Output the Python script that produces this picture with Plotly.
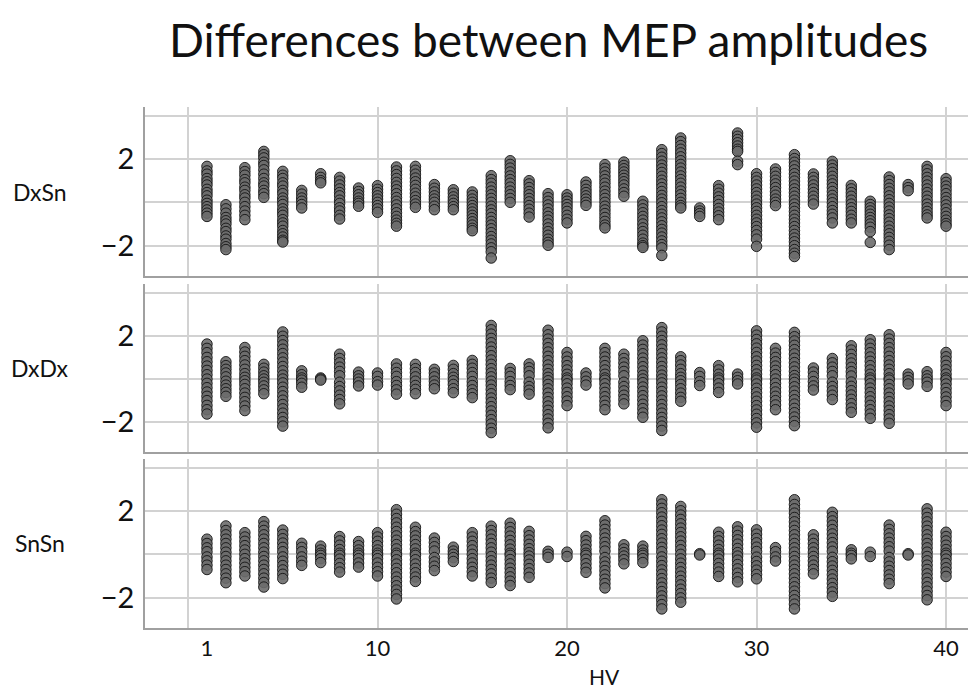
import plotly.graph_objects as go

title_text = "Differences between MEP amplitudes"
panel_names = ["DxSn", "DxDx", "SnSn"]
x_title = "HV"
hv_subjects = list(range(1, 41))
x_tickvals = [1, 10, 20, 30, 40]
x_ticktext = ["1", "10", "20", "30", "40"]
x_gridvals = [0, 10, 20, 30, 40]
y_tickvals = [-4, -2, 0, 2, 4]
y_ticktext = ["", "−2", "", "2", ""]

dxsn = [
    [1.66, 1.45, 1.3, 1.1, 0.95, 0.8, 0.6, 0.45, 0.3, 0.1, -0.05, -0.2, -0.35, -0.5, -0.65],
    [-0.11, -0.3, -0.5, -0.7, -0.85, -1.0, -1.2, -1.35, -1.55, -1.7, -1.9, -2.05, -2.18],
    [1.6, 1.42, 1.25, 1.05, 0.9, 0.7, 0.55, 0.35, 0.2, 0.0, -0.2, -0.4, -0.6, -0.8],
    [2.35, 2.2, 2.05, 1.85, 1.7, 1.5, 1.3, 1.1, 0.9, 0.75, 0.55, 0.4, 0.23],
    [1.43, 1.25, 1.1, 0.9, 0.75, 0.55, 0.4, 0.2, 0.05, -0.1, -0.3, -0.45, -0.6, -0.8, -0.95, -1.1, -1.3, -1.45, -1.6, -1.75, -1.83],
    [0.55, 0.38, 0.2, 0.05, -0.1, -0.26],
    [1.32, 1.15, 1.0, 0.9],
    [1.15, 0.98, 0.8, 0.62, 0.45, 0.3, 0.1, -0.05, -0.25, -0.4, -0.6, -0.77],
    [0.66, 0.5, 0.35, 0.2, 0.05, -0.05, -0.18],
    [0.77, 0.6, 0.45, 0.3, 0.15, 0.0, -0.15, -0.3, -0.46],
    [1.63, 1.45, 1.28, 1.1, 0.92, 0.75, 0.58, 0.4, 0.22, 0.05, -0.12, -0.3, -0.48, -0.65, -0.82, -0.97, -1.1],
    [1.66, 1.48, 1.3, 1.12, 0.95, 0.78, 0.6, 0.42, 0.25, 0.08, -0.08, -0.23],
    [0.82, 0.65, 0.48, 0.3, 0.15, 0.0, -0.18, -0.34],
    [0.58, 0.42, 0.25, 0.1, -0.05, -0.2, -0.34],
    [0.48, 0.32, 0.15, 0.0, -0.15, -0.3, -0.45, -0.6, -0.75, -0.9, -1.05, -1.2, -1.31],
    [1.23, 1.05, 0.88, 0.7, 0.52, 0.35, 0.18, 0.0, -0.18, -0.35, -0.52, -0.7, -0.88, -1.05, -1.22, -1.4, -1.58, -1.75, -1.92, -2.1, -2.28, -2.57],
    [1.92, 1.75, 1.58, 1.4, 1.22, 1.05, 0.88, 0.7, 0.52, 0.35, 0.18, 0.0],
    [1.0, 0.85, 0.68, 0.5, 0.35, 0.18, 0.02, -0.15, -0.32, -0.5, -0.68],
    [0.4, 0.22, 0.05, -0.12, -0.3, -0.48, -0.65, -0.82, -1.0, -1.18, -1.35, -1.52, -1.7, -1.85, -1.98],
    [0.35, 0.2, 0.05, -0.1, -0.25, -0.42, -0.6, -0.78, -0.95],
    [0.94, 0.78, 0.6, 0.45, 0.3, 0.15, 0.0, -0.14],
    [1.74, 1.57, 1.4, 1.22, 1.05, 0.88, 0.7, 0.52, 0.35, 0.18, 0.0, -0.18, -0.35, -0.52, -0.7, -0.88, -1.05, -1.18],
    [1.86, 1.7, 1.55, 1.4, 1.25, 1.1, 0.95, 0.8, 0.62, 0.45, 0.28],
    [0.05, -0.12, -0.3, -0.48, -0.65, -0.82, -1.0, -1.18, -1.35, -1.52, -1.7, -1.88, -2.0, -2.08],
    [2.43, 2.25, 2.08, 1.9, 1.72, 1.55, 1.38, 1.2, 1.02, 0.85, 0.68, 0.5, 0.32, 0.15, -0.02, -0.2, -0.38, -0.55, -0.72, -0.9, -1.08, -1.25, -1.42, -1.6, -1.78, -1.95, -2.1, -2.45],
    [2.97, 2.8, 2.62, 2.45, 2.28, 2.1, 1.92, 1.75, 1.58, 1.4, 1.22, 1.05, 0.88, 0.7, 0.52, 0.35, 0.18, 0.0, -0.15, -0.26],
    [-0.26, -0.4, -0.52, -0.65],
    [0.77, 0.6, 0.42, 0.25, 0.08, -0.1, -0.28, -0.45, -0.62, -0.8],
    [3.2, 3.05, 2.9, 2.75, 2.6, 2.45, 2.35, 1.9, 1.74],
    [1.32, 1.15, 0.98, 0.8, 0.62, 0.45, 0.28, 0.1, -0.08, -0.25, -0.42, -0.6, -0.78, -0.95, -1.12, -1.3, -1.5, -1.7, -2.03],
    [1.54, 1.38, 1.2, 1.02, 0.85, 0.68, 0.5, 0.33, 0.15, 0.0, -0.15],
    [2.2, 2.02, 1.85, 1.68, 1.5, 1.32, 1.15, 0.98, 0.8, 0.62, 0.45, 0.28, 0.1, -0.08, -0.25, -0.42, -0.6, -0.78, -0.95, -1.12, -1.3, -1.48, -1.65, -1.82, -2.0, -2.18, -2.35, -2.5],
    [1.31, 1.15, 0.98, 0.8, 0.62, 0.45, 0.28, 0.1, -0.08],
    [1.89, 1.72, 1.55, 1.38, 1.2, 1.02, 0.85, 0.68, 0.5, 0.32, 0.15, -0.02, -0.2, -0.38, -0.55, -0.72, -0.95],
    [0.78, 0.62, 0.45, 0.28, 0.1, -0.08, -0.25, -0.42, -0.6, -0.78, -0.95],
    [0.05, -0.1, -0.25, -0.4, -0.55, -0.7, -0.85, -1.0, -1.15, -1.35, -1.85],
    [1.17, 1.0, 0.82, 0.65, 0.48, 0.3, 0.12, -0.05, -0.22, -0.4, -0.58, -0.75, -0.92, -1.1, -1.28, -1.45, -1.62, -1.8, -1.98, -2.18],
    [0.82, 0.68, 0.54],
    [1.66, 1.5, 1.32, 1.15, 0.98, 0.8, 0.62, 0.45, 0.28, 0.1, -0.08, -0.25, -0.42, -0.58, -0.72],
    [1.09, 0.92, 0.75, 0.58, 0.4, 0.22, 0.05, -0.12, -0.3, -0.48, -0.65, -0.82, -0.98, -1.1],
]

dxdx = [
    [1.62, 1.42, 1.22, 1.0, 0.8, 0.6, 0.4, 0.2, 0.0, -0.2, -0.4, -0.6, -0.8, -1.0, -1.22, -1.42, -1.62],
    [0.8, 0.62, 0.45, 0.28, 0.1, -0.1, -0.28, -0.45, -0.62, -0.8],
    [1.46, 1.25, 1.05, 0.85, 0.65, 0.45, 0.25, 0.08, -0.08, -0.25, -0.45, -0.65, -0.85, -1.05, -1.25, -1.46],
    [0.68, 0.5, 0.32, 0.15, 0.0, -0.15, -0.32, -0.5, -0.68],
    [2.18, 1.98, 1.78, 1.58, 1.38, 1.18, 0.98, 0.78, 0.58, 0.38, 0.18, 0.0, -0.18, -0.38, -0.58, -0.78, -0.98, -1.18, -1.38, -1.58, -1.78, -1.98, -2.18],
    [0.38, 0.2, 0.05, -0.05, -0.2, -0.38],
    [0.05, 0.0, -0.05],
    [1.15, 0.95, 0.75, 0.55, 0.35, 0.15, -0.15, -0.35, -0.55, -0.75, -0.95, -1.15],
    [0.32, 0.15, 0.0, -0.15, -0.32],
    [0.28, 0.12, -0.12, -0.28],
    [0.7, 0.5, 0.3, 0.12, -0.12, -0.3, -0.5, -0.7],
    [0.68, 0.48, 0.3, 0.1, -0.1, -0.3, -0.48, -0.68],
    [0.45, 0.28, 0.1, -0.1, -0.28, -0.45],
    [0.63, 0.45, 0.25, 0.08, -0.08, -0.25, -0.45, -0.63],
    [0.86, 0.68, 0.5, 0.3, 0.12, -0.12, -0.3, -0.5, -0.68, -0.86],
    [2.48, 2.28, 2.08, 1.88, 1.68, 1.48, 1.28, 1.08, 0.88, 0.68, 0.48, 0.28, 0.1, -0.1, -0.28, -0.48, -0.68, -0.88, -1.08, -1.28, -1.48, -1.68, -1.88, -2.08, -2.28, -2.48],
    [0.49, 0.3, 0.12, -0.12, -0.3, -0.49],
    [0.7, 0.52, 0.35, 0.15, -0.15, -0.35, -0.52, -0.7],
    [2.26, 2.05, 1.85, 1.65, 1.45, 1.25, 1.05, 0.85, 0.65, 0.45, 0.25, 0.08, -0.08, -0.25, -0.45, -0.65, -0.85, -1.05, -1.25, -1.45, -1.65, -1.85, -2.05, -2.26],
    [1.23, 1.02, 0.82, 0.62, 0.42, 0.22, 0.05, -0.05, -0.22, -0.42, -0.62, -0.82, -1.02, -1.23],
    [0.28, 0.1, -0.1, -0.28],
    [1.42, 1.22, 1.02, 0.82, 0.62, 0.42, 0.22, 0.05, -0.05, -0.22, -0.42, -0.62, -0.82, -1.02, -1.22, -1.42],
    [1.15, 0.95, 0.75, 0.55, 0.35, 0.15, -0.15, -0.35, -0.55, -0.75, -0.95, -1.15],
    [1.77, 1.57, 1.37, 1.17, 0.97, 0.77, 0.57, 0.37, 0.17, 0.0, -0.17, -0.37, -0.57, -0.77, -0.97, -1.17, -1.37, -1.57, -1.77],
    [2.38, 2.18, 1.98, 1.78, 1.58, 1.38, 1.18, 0.98, 0.78, 0.58, 0.38, 0.18, 0.0, -0.18, -0.38, -0.58, -0.78, -0.98, -1.18, -1.38, -1.58, -1.78, -1.98, -2.18, -2.38],
    [1.03, 0.85, 0.65, 0.45, 0.25, 0.08, -0.08, -0.25, -0.45, -0.65, -0.85, -1.03],
    [0.3, 0.12, -0.12, -0.3],
    [0.62, 0.42, 0.22, 0.05, -0.05, -0.22, -0.42, -0.62],
    [0.23, 0.08, -0.08, -0.23],
    [2.23, 2.03, 1.83, 1.63, 1.43, 1.23, 1.03, 0.83, 0.63, 0.43, 0.23, 0.05, -0.05, -0.23, -0.43, -0.63, -0.83, -1.03, -1.23, -1.43, -1.63, -1.83, -2.03, -2.23],
    [1.42, 1.2, 1.0, 0.8, 0.6, 0.4, 0.2, 0.0, -0.2, -0.4, -0.6, -0.8, -1.0, -1.2, -1.42],
    [2.16, 1.96, 1.76, 1.56, 1.36, 1.16, 0.96, 0.76, 0.56, 0.36, 0.16, 0.0, -0.16, -0.36, -0.56, -0.76, -0.96, -1.16, -1.36, -1.56, -1.76, -1.96, -2.16],
    [0.51, 0.32, 0.12, -0.12, -0.32, -0.51],
    [0.95, 0.75, 0.55, 0.35, 0.15, -0.15, -0.35, -0.55, -0.75, -0.95],
    [1.54, 1.34, 1.14, 0.94, 0.74, 0.54, 0.34, 0.14, -0.14, -0.34, -0.54, -0.74, -0.94, -1.14, -1.34, -1.54],
    [1.82, 1.62, 1.42, 1.22, 1.02, 0.82, 0.62, 0.42, 0.22, 0.05, -0.05, -0.22, -0.42, -0.62, -0.82, -1.02, -1.22, -1.42, -1.62, -1.82],
    [2.05, 1.85, 1.65, 1.45, 1.25, 1.05, 0.85, 0.65, 0.45, 0.25, 0.05, -0.05, -0.25, -0.45, -0.65, -0.85, -1.05, -1.25, -1.45, -1.65, -1.85, -2.05],
    [0.23, 0.08, -0.08, -0.23],
    [0.34, 0.15, 0.0, -0.15, -0.34],
    [1.23, 1.03, 0.83, 0.63, 0.43, 0.23, 0.05, -0.05, -0.23, -0.43, -0.63, -0.83, -1.03, -1.23],
]

snsn = [
    [0.7, 0.5, 0.3, 0.12, -0.12, -0.3, -0.5, -0.7],
    [1.31, 1.1, 0.9, 0.7, 0.5, 0.3, 0.1, -0.1, -0.3, -0.5, -0.7, -0.9, -1.1, -1.31],
    [1.0, 0.8, 0.6, 0.4, 0.2, 0.0, -0.2, -0.4, -0.6, -0.8, -1.0],
    [1.51, 1.3, 1.1, 0.9, 0.7, 0.5, 0.3, 0.1, -0.1, -0.3, -0.5, -0.7, -0.9, -1.1, -1.3, -1.51],
    [1.12, 0.92, 0.72, 0.52, 0.32, 0.12, -0.12, -0.32, -0.52, -0.72, -0.92, -1.12],
    [0.51, 0.32, 0.12, -0.12, -0.32, -0.51],
    [0.38, 0.2, 0.05, -0.05, -0.2, -0.38],
    [0.82, 0.62, 0.42, 0.22, 0.05, -0.05, -0.22, -0.42, -0.62, -0.82],
    [0.59, 0.4, 0.2, 0.05, -0.05, -0.2, -0.4, -0.59],
    [1.0, 0.8, 0.6, 0.4, 0.2, 0.05, -0.05, -0.2, -0.4, -0.6, -0.8, -1.0],
    [2.06, 1.85, 1.65, 1.45, 1.25, 1.05, 0.85, 0.65, 0.45, 0.25, 0.05, -0.05, -0.25, -0.45, -0.65, -0.85, -1.05, -1.25, -1.45, -1.65, -1.85, -2.06],
    [1.25, 1.05, 0.85, 0.65, 0.45, 0.25, 0.05, -0.05, -0.25, -0.45, -0.65, -0.85, -1.05, -1.25],
    [0.75, 0.55, 0.35, 0.15, -0.15, -0.35, -0.55, -0.75],
    [0.33, 0.15, 0.0, -0.15, -0.33],
    [1.0, 0.8, 0.6, 0.4, 0.2, 0.0, -0.2, -0.4, -0.6, -0.8, -1.0],
    [1.3, 1.1, 0.9, 0.7, 0.5, 0.3, 0.1, -0.1, -0.3, -0.5, -0.7, -0.9, -1.1, -1.3],
    [1.44, 1.24, 1.04, 0.84, 0.64, 0.44, 0.24, 0.05, -0.05, -0.24, -0.44, -0.64, -0.84, -1.04, -1.24, -1.44],
    [1.06, 0.86, 0.66, 0.46, 0.26, 0.08, -0.08, -0.26, -0.46, -0.66, -0.86, -1.06],
    [0.14, 0.0, -0.14],
    [0.1, -0.1],
    [0.83, 0.63, 0.43, 0.23, 0.05, -0.05, -0.23, -0.43, -0.63, -0.83],
    [1.55, 1.35, 1.15, 0.95, 0.75, 0.55, 0.35, 0.15, -0.15, -0.35, -0.55, -0.75, -0.95, -1.15, -1.35, -1.55],
    [0.44, 0.25, 0.08, -0.08, -0.25, -0.44],
    [0.38, 0.2, 0.05, -0.05, -0.2, -0.38],
    [2.52, 2.32, 2.12, 1.92, 1.72, 1.52, 1.32, 1.12, 0.92, 0.72, 0.52, 0.32, 0.12, -0.12, -0.32, -0.52, -0.72, -0.92, -1.12, -1.32, -1.52, -1.72, -1.92, -2.12, -2.32, -2.52],
    [2.21, 2.01, 1.81, 1.61, 1.41, 1.21, 1.01, 0.81, 0.61, 0.41, 0.21, 0.0, -0.21, -0.41, -0.61, -0.81, -1.01, -1.21, -1.41, -1.61, -1.81, -2.01, -2.21],
    [0.03, -0.03],
    [1.02, 0.82, 0.62, 0.42, 0.22, 0.05, -0.05, -0.22, -0.42, -0.62, -0.82, -1.02],
    [1.27, 1.07, 0.87, 0.67, 0.47, 0.27, 0.08, -0.08, -0.27, -0.47, -0.67, -0.87, -1.07, -1.27],
    [1.13, 0.93, 0.73, 0.53, 0.33, 0.13, -0.13, -0.33, -0.53, -0.73, -0.93, -1.13],
    [0.31, 0.12, -0.12, -0.31],
    [2.52, 2.3, 2.1, 1.9, 1.7, 1.5, 1.3, 1.1, 0.9, 0.7, 0.5, 0.3, 0.1, -0.1, -0.3, -0.5, -0.7, -0.9, -1.1, -1.3, -1.5, -1.7, -1.9, -2.1, -2.3, -2.52],
    [0.9, 0.7, 0.5, 0.3, 0.1, -0.1, -0.3, -0.5, -0.7, -0.9],
    [1.94, 1.74, 1.54, 1.34, 1.14, 0.94, 0.74, 0.54, 0.34, 0.14, -0.14, -0.34, -0.54, -0.74, -0.94, -1.14, -1.34, -1.54, -1.74, -1.94],
    [0.21, 0.05, -0.05, -0.21],
    [0.1, -0.1],
    [1.35, 1.15, 0.95, 0.75, 0.55, 0.35, 0.15, -0.15, -0.35, -0.55, -0.75, -0.95, -1.15, -1.35],
    [0.03, -0.03],
    [2.1, 1.9, 1.7, 1.5, 1.3, 1.1, 0.9, 0.7, 0.5, 0.3, 0.1, -0.1, -0.3, -0.5, -0.7, -0.9, -1.1, -1.3, -1.5, -1.7, -1.9, -2.1],
    [1.02, 0.82, 0.62, 0.42, 0.22, 0.05, -0.05, -0.22, -0.42, -0.62, -0.82, -1.02],
]

FONT = "Lato"
# the page body has an 8px margin, so the figure is offset by 8px
OFF = 8
W, H = 976 - OFF, 691 - OFF
ML, MR = 145 - OFF, 0
MT = 107 - OFF
MB = H - (628 - OFF)
plot_w = W - ML - MR
plot_h = H - MT - MB


def px_x(sx):
    return (sx - OFF - ML) / plot_w


def px_y(sy):
    return (H - MB - (sy - OFF)) / plot_h


domains = [[0.6756, 1.0], [0.3369, 0.6603], [0.0, 0.3244]]
x_range = [-2.27, 41.58]
y_range = [-3.4, 4.4]

grid_col = "#d2d2d2"
axis_col = "#a0a0a0"

fig = go.Figure()
panels = [dxsn, dxdx, snsn]
for i, (name, data) in enumerate(zip(panel_names, panels)):
    xs, ys = [], []
    for subj, vals in zip(hv_subjects, data):
        xs.extend([subj] * len(vals))
        ys.extend(vals)
    suffix = "" if i == 0 else str(i + 1)
    fig.add_trace(go.Scatter(
        x=xs, y=ys, mode="markers", name=name, showlegend=False,
        xaxis="x" + suffix, yaxis="y" + suffix,
        marker=dict(size=10.5, color="rgba(108,108,108,0.9)",
                    line=dict(width=1, color="rgba(20,20,20,0.9)")),
    ))
    is_bottom = (i == 2)
    fig.layout["xaxis" + suffix] = dict(
        domain=[0, 1], range=x_range, anchor="y" + suffix,
        tickvals=x_tickvals, ticktext=x_ticktext,
        showticklabels=is_bottom, showgrid=False, zeroline=False,
        showline=True, linecolor=axis_col, linewidth=1.5, ticks="",
        tickfont=dict(family=FONT, size=22, color="#111"),
        minor=dict(tickvals=x_gridvals, showgrid=True, gridcolor=grid_col, gridwidth=1.5, ticks=""),
    )
    fig.layout["yaxis" + suffix] = dict(
        domain=domains[i], range=y_range, anchor="x" + suffix,
        tickvals=y_tickvals, ticktext=y_ticktext, showgrid=True,
        gridcolor=grid_col, gridwidth=1.5, zeroline=False,
        showline=True, linecolor=axis_col, linewidth=1.5, ticks="",
        ticklabelstandoff=3,
        tickfont=dict(family=FONT, size=29, color="#111"),
    )
    ymid = (domains[i][0] + domains[i][1]) / 2
    fig.add_annotation(
        text=name, xref="paper", yref="paper", x=px_x(40), y=ymid,
        xanchor="center", yanchor="middle", showarrow=False,
        font=dict(family=FONT, size=23, color="#111"),
    )

fig.add_annotation(
    text=title_text, xref="paper", yref="paper",
    x=px_x(548), y=px_y(40),
    xanchor="center", yanchor="middle", showarrow=False,
    font=dict(family=FONT, size=46, color="#111"),
)
fig.add_annotation(
    text=x_title, xref="paper", yref="paper",
    x=px_x(604), y=px_y(676),
    xanchor="center", yanchor="middle", showarrow=False,
    font=dict(family=FONT, size=21, color="#111"),
)

fig.update_layout(
    width=W, height=H, margin=dict(l=ML, r=MR, t=MT, b=MB),
    paper_bgcolor="white", plot_bgcolor="white",
    font=dict(family=FONT),
)

fig.write_html("out.html")
